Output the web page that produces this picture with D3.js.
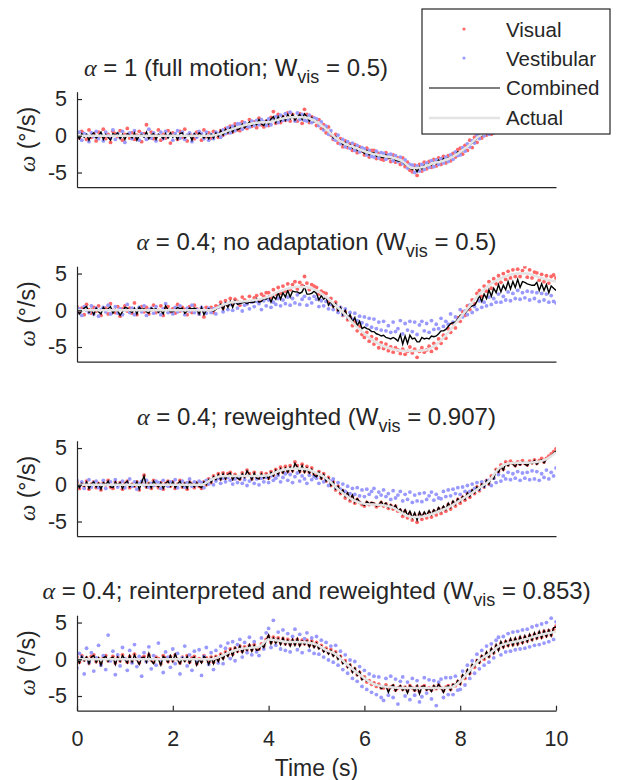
<!DOCTYPE html>
<html>
<head>
<meta charset="utf-8">
<script src="https://cdn.jsdelivr.net/npm/d3@7/dist/d3.min.js"></script>
<style>
  body { margin: 0; background: #fff; }
  svg text { font-family: 'Liberation Sans', Arial, Helvetica, sans-serif; fill: #262626; }
</style>
</head>
<body>
<svg id="chart" width="617" height="780"></svg>
<script>
// sample times: dots and combined every 0.05 s, actual motion every 0.2 s
const sampleTime = d3.range(201).map(i => i * 0.05)
const actualTime = d3.range(51).map(i => i * 0.2)

const xTicks = [0, 2, 4, 6, 8, 10]
const yTicks = [-5, 0, 5]
const legendLabels = ['Visual', 'Vestibular', 'Combined', 'Actual']

const titleHeads = ['= 1 (full motion; W', '= 0.4; no adaptation (W', '= 0.4; reweighted (W', '= 0.4; reinterpreted and reweighted (W']
const titleTails = [' = 0.5)', ' = 0.5)', ' = 0.907)', ' = 0.853)']

const actual1 = [0, 0, 0, 0, 0, 0, 0, 0, 0, 0, 0, 0, 0, 0, 0, 0.3, 0.8, 1.25, 1.6, 1.8, 1.85, 2.2, 2.5, 2.55, 2.45, 1.9, 0.9, -0.3, -1.1, -1.6, -2.1, -2.5, -2.75, -3.0, -3.5, -4.4, -4.3, -3.8, -3.5, -3.0, -2.2, -1.2, 0.0, 0.5, 0.9, 1.4, 1.9, 2.2, 2.4, 2.6, 2.8]
const actual2 = [0, 0, 0, 0, 0, 0, 0, 0, 0, 0, 0, 0, 0, 0, 0, 0.6, 1.05, 1.2, 1.3, 1.5, 1.85, 2.5, 2.95, 3.2, 3.15, 2.7, 1.8, 0.65, -0.6, -2.0, -3.2, -4.2, -4.9, -5.3, -5.5, -5.55, -5.5, -5.1, -4.1, -2.6, -1.0, 0.6, 2.2, 3.4, 4.2, 4.75, 5.0, 5.0, 4.6, 4.2, 3.9]
const actual3 = [0, 0, 0, 0, 0, 0, 0, 0, 0, 0, 0, 0, 0, 0, 0.7, 1.15, 1.2, 1.2, 1.2, 1.2, 1.3, 1.85, 2.15, 2.2, 2.1, 1.6, 0.9, -0.3, -1.4, -2.2, -2.6, -2.7, -2.8, -3.1, -3.9, -4.4, -4.35, -4.0, -3.5, -2.9, -2.1, -1.3, -0.4, 0.5, 2.2, 2.9, 3.0, 3.0, 3.1, 3.5, 4.4]
const actual4 = [0, 0, 0, 0, 0, 0, 0, 0, 0, 0, 0, 0, 0, 0, 0, 0.4, 1.0, 1.4, 1.55, 1.7, 2.7, 2.55, 2.35, 2.35, 2.3, 2.0, 1.25, 0.7, -0.5, -1.6, -2.6, -3.4, -3.7, -3.85, -3.9, -3.9, -3.9, -3.9, -3.9, -3.85, -3.0, -1.5, -0.1, 0.7, 1.75, 2.2, 2.45, 2.8, 3.2, 3.5, 3.75]

const visual1 = [
  0.4, -0.3, 0.6, 0.1, -0.5, 0.8, -0.2, 0.3, -0.7, 0.5, 0.0, 0.9, -0.4, 0.2, -0.9, 0.6, 0.3, -0.1, 0.7, -0.6, 0.2, 1.0, -0.3, 0.4, -0.5, 0.1, 0.6, -0.8, 0.3, 1.5, -0.2, 0.5,
  -0.4, 0.0, 0.8, -0.6, 0.2, -0.3, 0.7, -1.0, 0.4, 0.1, -0.5, 0.6, -0.2, 0.9, -0.7, 0.3, 0.0, -0.4, 0.5, 0.2, -0.6, 0.8, -0.1, 0.4,
  -0.3, 0.6, 0.4, -0.2, 0.7, 0.1, 1.0, 0.4, 1.3, 0.5, 1.6, 0.8, 0.7, 1.9, 1.2, 1.0, 2.2, 1.3, 1.9, 1.1, 2.4, 1.5, 1.2, 2.0, 1.4, 2.5, 3.3, 1.7, 2.9, 1.8, 2.6, 2.1,
  3.1, 2.0, 2.9, 2.4, 2.0, 3.0, 1.7, 3.6, 2.9, 1.8, 2.6, 2.4, 1.4, 2.2, 1.0, 1.5, 0.4, 1.2, 0.1, -0.5, 0.2, -1.0, -0.4, -1.5, -0.7, -1.6, -1.1, -2.0, -1.2, -2.3, -1.5, -2.1,
  -2.6, -1.7, -2.9, -2.0, -2.0, -3.1, -2.4, -3.2, -3.3, -2.3, -3.0, -3.5, -2.6, -3.6, -3.0, -3.9, -3.0, -4.2, -3.6, -4.7, -4.9, -4.0, -5.4, -3.9, -4.8, -3.6, -4.5, -3.5, -4.3, -3.2, -4.1, -3.0,
  -3.9, -2.8, -3.7, -2.7, -3.4, -2.4, -2.9, -1.9, -1.7, -2.5, -1.3, -2.0, -0.6, -1.6, -0.2, -0.9, 0.5, -0.3, 0.7, 0.1, 1.0, 0.2, 1.1, 0.5, 1.4, 0.6, 1.7, 0.9, 1.9, 1.1, 2.1, 1.4,
  2.5, 1.5, 2.4, 1.7, 2.7, 1.8, 2.8, 2.0, 2.9, 2.0, 3.0, 2.2, 3.1, 2.3, 3.2, 2.4, 2.9
]
const vestibular1 = [
  -0.2, 0.5, -0.6, 0.3, 0.1, -0.8, 0.4, -0.1, 0.6, -0.4, 0.2, -0.7, 0.5, 0.0, -0.3, 0.8, -0.5, 0.3, -0.2, 0.6, -0.9, 0.1, 0.4, -0.4, 0.7, -0.1, -0.6, 0.3, 0.0, -0.5, 0.9, -0.3,
  0.4, -0.7, 0.1, 0.5, -0.4, 0.6, -0.1, 0.2, -0.6, 0.3, 0.7, -0.3, 0.5, -0.5, 0.1, 0.4, -0.8, 0.2, -0.2, 0.6, 0.3, -0.4, 0.5, -0.6,
  0.2, -0.4, 0.5, 0.3, -0.2, 0.8, 0.3, 1.1, 0.4, 1.3, 0.7, 1.6, 1.6, 0.9, 1.8, 1.3, 1.2, 2.0, 1.4, 2.1, 1.5, 2.2, 1.9, 1.4, 2.3, 1.5, 2.1, 2.6, 1.8, 2.8, 2.1, 3.0,
  2.2, 3.2, 2.6, 2.0, 3.1, 2.2, 2.9, 2.1, 2.0, 2.8, 1.8, 2.4, 2.3, 1.4, 1.9, 0.8, 1.3, 0.2, 0.7, -0.3, -0.6, 0.1, -1.1, -0.5, -1.5, -0.8, -1.7, -1.0, -2.0, -1.3, -2.2, -1.6,
  -1.8, -2.6, -2.0, -2.8, -2.9, -2.1, -3.0, -2.3, -2.4, -3.2, -2.6, -2.5, -3.4, -2.7, -3.5, -2.9, -3.8, -3.3, -4.4, -3.9, -4.0, -5.0, -4.1, -4.8, -3.9, -4.6, -3.7, -4.3, -3.4, -4.2, -3.3, -3.9,
  -3.1, -3.7, -2.9, -3.5, -2.6, -3.2, -2.2, -2.7, -2.6, -1.6, -2.1, -1.1, -1.5, -0.7, -1.0, 0.1, -0.4, 0.5, 0.0, 0.8, 0.2, 1.0, 0.4, 1.2, 0.6, 1.4, 0.8, 1.7, 1.1, 1.9, 1.3, 2.2,
  1.6, 2.4, 1.8, 2.6, 1.9, 2.7, 2.1, 2.8, 2.1, 2.9, 2.3, 3.0, 2.3, 3.1, 2.5, 3.3, 2.6
]
const combined1 = [
  0.1, -0.4, 0.3, -0.2, 0.2, -0.6, 0.1, 0.4, -0.3, 0.0, 0.5, -0.5, 0.2, -0.2, -0.6, 0.3, 0.1, 0.4, -0.4, 0.2, -0.5, 0.3, 0.1, -0.3, 0.4, -0.6, 0.0, 0.2, -0.2, 0.5, -0.4, 0.1,
  0.3, -0.5, 0.2, 0.0, -0.4, 0.3, -0.3, 0.4, -0.2, 0.1, -0.5, 0.3, 0.4, -0.3, 0.0, 0.2, -0.6, 0.3, -0.1, 0.4, 0.1, -0.3, 0.2, -0.4,
  0.2, -0.3, 0.4, -0.1, 0.7, 0.1, 0.9, 0.4, 1.1, 0.5, 1.3, 0.8, 1.0, 1.6, 1.1, 1.5, 1.9, 1.4, 1.8, 1.5, 2.2, 1.6, 1.4, 2.1, 1.6, 2.3, 2.6, 1.8, 2.6, 2.0, 2.7, 2.1,
  2.9, 2.3, 2.9, 2.1, 2.6, 2.9, 2.2, 3.0, 2.6, 2.0, 2.5, 1.9, 2.0, 1.6, 1.5, 1.0, 1.0, 0.6, 0.4, -0.3, -0.1, -0.6, -0.6, -1.2, -0.9, -1.4, -1.2, -1.7, -1.4, -2.0, -1.7, -2.1,
  -2.4, -2.0, -2.6, -2.3, -2.3, -2.8, -2.6, -2.9, -3.0, -2.6, -3.0, -3.1, -2.9, -3.3, -3.4, -3.5, -3.5, -3.9, -4.1, -4.4, -4.6, -4.3, -4.9, -4.2, -4.5, -4.0, -4.2, -3.8, -4.0, -3.6, -3.8, -3.3,
  -3.6, -3.1, -3.4, -3.0, -3.1, -2.7, -2.7, -2.2, -2.3, -2.0, -1.8, -1.4, -1.2, -1.0, -0.7, -0.3, 0.1, 0.0, 0.4, 0.3, 0.7, 0.5, 0.9, 0.7, 1.1, 0.9, 1.3, 1.2, 1.6, 1.4, 1.8, 1.7,
  2.1, 1.8, 2.2, 2.0, 2.4, 2.1, 2.5, 2.3, 2.6, 2.3, 2.7, 2.5, 2.8, 2.6, 2.9, 2.7, 2.8
]

const visual2 = [
  0.5, -0.2, 0.3, -0.6, 0.8, 0.1, -0.4, 0.4, -0.1, 0.6, -0.7, 0.2, 0.3, -0.5, 0.9, 0.0, -0.3, 0.5, -0.8, 0.2, 0.6, -0.1, 0.3, -0.4, 1.0, -0.6, 0.2, 0.5, -0.2, 0.4, -0.5, 0.1,
  0.7, -0.3, 0.0, 0.6, -0.7, 0.3, 0.5, -0.2, 0.2, -0.4, 0.8, -0.1, 0.4, 0.1, -0.6, 0.5, -0.3, 0.7, 0.2, -0.5, 0.3, -0.9, 0.4, 0.1,
  0.4, -0.3, 0.6, 0.5, 1.1, 0.3, 1.3, 0.7, 1.6, 0.8, 1.5, 1.2, 0.7, 1.8, 1.4, 0.9, 1.9, 1.1, 1.7, 2.0, 1.3, 2.2, 1.9, 2.4, 2.4, 1.7, 2.8, 2.2, 3.1, 2.3, 3.3, 2.6,
  3.6, 2.8, 3.5, 3.9, 2.9, 3.8, 3.4, 4.6, 3.7, 2.8, 3.5, 3.3, 3.1, 2.2, 2.6, 2.4, 2.3, 1.2, 1.6, 0.6, 1.1, 0.0, 0.4, -0.7, -0.2, -1.3, -0.9, -2.1, -1.6, -2.8, -2.2, -3.3,
  -3.7, -3.0, -4.2, -3.6, -4.6, -3.9, -5.1, -4.4, -5.2, -4.6, -5.5, -5.0, -5.7, -5.1, -5.4, -5.9, -5.3, -6.0, -5.6, -5.0, -5.8, -5.3, -6.4, -5.6, -5.1, -5.7, -5.4, -4.9, -5.6, -4.5, -5.2, -3.9,
  -4.5, -3.4, -3.8, -2.5, -3.0, -1.8, -2.4, -1.0, -1.5, -0.2, -0.7, 0.6, 0.1, 1.4, 0.9, 2.3, 2.7, 1.9, 3.3, 2.6, 3.9, 3.0, 4.3, 3.6, 4.7, 3.8, 5.0, 4.2, 5.3, 4.4, 5.5, 4.6,
  5.6, 4.6, 5.4, 5.9, 4.5, 5.5, 4.4, 5.2, 5.1, 4.1, 4.9, 3.9, 4.7, 3.7, 4.6, 4.8, 4.4
]
const vestibular2 = [
  -0.4, 0.2, -0.7, 0.5, 0.0, -0.3, 0.6, -0.5, 0.3, -0.8, 0.1, 0.4, -0.2, 0.7, -0.5, 0.0, 0.5, -0.4, 0.2, -0.6, 0.1, 0.8, -0.3, 0.3, -0.6, 0.0, 0.4, -0.2, 0.6, -0.7, 0.1, 0.3,
  -0.4, 0.5, -0.1, -0.6, 0.2, 0.9, -0.3, 0.0, -0.5, 0.4, -0.2, 0.6, 0.0, -0.6, 0.3, -0.1, 0.7, -0.3, 0.1, -0.5, 0.4, 0.0, -0.4, 0.3,
  -0.3, 0.2, -0.5, 0.4, 0.6, -0.2, 0.9, 0.1, 0.8, 0.0, 1.1, 0.3, 1.0, -0.1, 0.7, 0.9, 0.2, 1.1, 0.5, 1.2, 0.9, 0.1, 1.3, 0.6, 1.4, 0.4, 1.1, 0.8, 1.6, 0.6, 1.4, 0.9,
  1.8, 0.7, 1.6, 1.0, 2.1, 0.8, 1.5, 1.9, 0.7, 1.6, 1.0, 1.9, 1.5, 0.5, 1.3, 0.6, 1.2, 0.2, 0.8, 0.1, 0.7, -0.3, 0.4, -0.6, 0.2, -0.9, -0.3, -1.2, -0.4, -1.4, -0.8, -1.7,
  -0.9, -2.0, -1.1, -2.3, -1.2, -2.5, -1.6, -2.7, -1.5, -2.8, -2.1, -3.0, -1.6, -2.9, -2.5, -1.4, -3.2, -1.8, -2.7, -1.5, -2.9, -1.6, -3.3, -2.0, -1.5, -2.8, -1.8, -3.0, -1.4, -2.6, -1.9, -2.5,
  -1.1, -2.2, -1.5, -1.9, -0.5, -1.6, -0.9, -1.3, 0.1, -0.9, -0.1, -0.6, 0.7, -0.3, 0.5, 0.1, 1.3, 0.4, 1.1, 0.6, 1.8, 0.8, 1.6, 1.1, 2.2, 1.1, 1.9, 1.4, 2.5, 1.3, 2.3, 1.6,
  2.7, 1.5, 2.4, 1.7, 2.6, 1.4, 2.5, 1.6, 2.4, 1.2, 2.3, 1.4, 2.2, 1.1, 2.0, 1.2, 1.0
]
const combined2 = [
  0.2, -0.5, -0.1, 0.3, 0.5, -0.3, 0.1, -0.6, 0.3, -0.2, -0.5, 0.4, 0.0, 0.2, 0.5, -0.4, 0.1, -0.1, -0.7, -0.2, 0.4, 0.3, -0.1, -0.3, 0.3, -0.5, 0.4, 0.1, 0.2, -0.2, -0.4, 0.3,
  0.1, 0.2, -0.3, 0.0, -0.5, 0.6, 0.1, -0.2, -0.2, 0.0, 0.4, 0.2, 0.3, -0.4, -0.1, 0.3, 0.2, 0.3, 0.1, -0.5, 0.4, -0.6, 0.0, 0.2,
  0.0, -0.1, 0.1, 0.4, 0.8, 0.1, 1.0, 0.4, 1.2, 0.4, 1.3, 0.8, 0.9, 1.0, 1.1, 0.9, 1.1, 1.1, 1.1, 1.6, 1.1, 1.2, 1.6, 1.5, 1.9, 1.1, 1.9, 1.5, 2.4, 1.5, 2.4, 1.8,
  2.7, 1.8, 2.6, 2.5, 2.5, 2.3, 2.5, 3.2, 2.2, 2.2, 2.3, 2.6, 2.3, 1.4, 2.0, 1.5, 1.8, 0.7, 1.2, 0.4, 0.9, -0.1, 0.4, -0.6, 0.0, -1.1, -0.6, -1.6, -1.0, -2.1, -1.5, -2.5,
  -2.3, -2.5, -2.6, -2.9, -2.9, -3.2, -3.3, -3.5, -3.4, -3.7, -3.8, -3.9, -3.7, -3.9, -4.2, -3.3, -4.6, -3.5, -4.5, -3.4, -3.9, -3.8, -4.3, -4.3, -3.7, -3.9, -3.8, -3.9, -3.5, -3.6, -3.5, -3.2,
  -2.8, -2.8, -2.6, -2.2, -1.8, -1.7, -1.6, -1.2, -0.7, -0.6, -0.4, 0.0, 0.4, 0.6, 0.7, 1.2, 2.0, 1.2, 2.2, 1.6, 2.8, 1.9, 3.0, 2.4, 3.5, 2.5, 3.4, 2.8, 3.9, 2.9, 3.9, 3.1,
  4.2, 3.1, 3.9, 3.8, 3.6, 3.5, 3.4, 3.4, 3.8, 2.7, 3.6, 2.7, 3.5, 2.4, 3.3, 3.0, 2.7
]

const visual3 = [
  0.3, -0.5, 0.2, -0.2, 0.5, -0.6, 0.1, 0.4, -0.4, 0.2, -0.7, 0.3, 0.0, 0.6, -0.3, -0.5, 0.4, -0.1, 0.3, -0.6, 0.2, 0.5, -0.4, 0.1, -0.2, 0.4, -0.7, 0.3, 1.3, -0.3, 0.2, -0.5,
  0.6, 0.0, -0.4, 0.3, -0.6, 0.2, 0.5, -0.2, 0.4, -0.5, 0.1, 0.6, -0.3, 0.2, -0.6, 0.4, 0.1, -0.4, 0.3, -0.2,
  -0.5, 0.4, 0.0, 0.8, 0.3, 1.2, 0.8, 1.5, 0.8, 1.6, 0.9, 1.5, 1.7, 0.8, 1.4, 1.0, 0.8, 1.6, 1.1, 2.0, 1.5, 0.8, 1.7, 1.0, 0.9, 1.6, 1.0, 1.5, 0.9, 1.8, 1.3, 2.1,
  1.5, 2.4, 1.7, 2.5, 1.8, 2.6, 1.9, 3.1, 2.6, 1.8, 2.8, 1.8, 2.5, 1.7, 2.3, 1.4, 1.2, 1.8, 0.9, 1.5, 0.5, 1.0, -0.1, 0.4, -0.7, -0.2, -1.2, -0.8, -1.8, -1.2, -2.2, -1.6,
  -2.5, -2.0, -2.4, -2.7, -2.9, -2.4, -2.7, -2.5, -2.6, -3.0, -2.8, -2.4, -2.9, -2.6, -3.2, -2.8, -3.3, -2.9, -3.6, -3.5, -4.3, -3.6, -4.5, -3.9, -4.8, -4.1, -5.1, -4.0, -4.7, -4.0, -4.5, -3.8,
  -4.4, -3.6, -4.1, -3.3, -3.9, -3.1, -3.6, -2.7, -3.3, -2.4, -2.9, -2.0, -2.5, -1.7, -2.1, -1.2, -1.7, -0.8, -1.2, -0.3, -0.8, 0.1, -0.3, 0.6, 0.1, 1.2, 0.9, 2.1, 1.8, 2.7, 2.1, 3.1,
  2.7, 3.2, 2.9, 2.6, 3.1, 2.8, 3.3, 2.9, 2.7, 3.2, 3.0, 3.4, 2.9, 3.3, 3.6, 3.1, 3.6, 3.9, 4.2, 4.5, 4.9
]
const vestibular3 = [
  0.6, -0.2, 0.4, -0.5, 0.1, 0.7, -0.3, 0.3, 0.5, -0.4, 0.0, 0.6, -0.5, 0.2, 0.4, -0.1, 0.7, -0.3, 0.1, 0.5, -0.4, 0.3, 0.8, -0.2, 0.4, -0.6, 0.2, 0.5, 0.0, 0.6, -0.3, 0.2,
  -0.1, 0.5, 0.3, -0.5, 0.6, 0.0, -0.2, 0.4, 0.2, 0.7, -0.4, 0.1, 0.5, -0.3, 0.3, 0.8, -0.2, 0.4, 0.0, 0.5,
  0.3, -0.4, 0.6, 0.1, 0.7, 0.0, 0.5, 0.9, 0.2, 0.9, 0.4, 1.0, 0.6, 0.1, 0.8, 0.3, 1.0, 0.2, 0.7, -0.1, 0.5, 1.1, 0.2, 0.8, 0.0, 0.9, 0.4, 1.0, 0.3, 1.2, 0.6, 0.9,
  1.3, 0.4, 1.0, 1.5, 0.6, 1.4, 0.3, 1.1, 1.6, 0.5, 1.2, 0.8, 0.2, 1.3, 0.7, 1.1, 0.9, 0.2, 1.2, 0.4, 0.7, -0.1, 0.5, 0.8, -0.4, 0.3, -0.6, 0.1, -0.9, -0.2, -1.2, -0.5,
  -1.3, -0.4, -1.5, -0.7, -1.6, -0.6, -1.3, -0.9, -0.5, -1.7, -1.0, -1.4, -0.7, -1.6, -1.2, -2.0, -0.8, -1.8, -1.4, -0.9, -2.2, -1.3, -2.0, -1.0, -2.4, -1.4, -2.2, -1.2, -2.3, -1.1, -2.0, -1.5,
  -1.0, -2.1, -1.3, -1.8, -1.9, -0.9, -1.6, -0.7, -1.5, -0.6, -1.2, -0.4, -1.3, -0.3, -0.9, -0.1, -0.9, 0.1, -0.5, 0.3, -0.6, 0.4, -0.2, 0.5, 0.6, -0.1, 0.9, 0.3, 1.4, 0.5, 1.2, 0.8,
  1.7, 0.7, 1.5, 0.9, 1.8, 0.6, 1.6, 0.9, 1.7, 0.7, 1.9, 0.8, 1.8, 0.6, 1.5, 1.0, 2.0, 0.8, 1.7, 1.2, 2.3
]
const combined3 = [
  0.3, -0.4, 0.2, -0.2, 0.4, -0.5, 0.1, 0.4, -0.3, 0.2, -0.6, 0.3, 0.0, 0.5, -0.3, -0.4, 0.4, -0.1, 0.3, -0.5, 0.2, 0.5, -0.3, 0.1, -0.2, 0.4, -0.6, 0.3, 1.2, -0.3, 0.2, -0.4,
  0.5, 0.0, -0.3, 0.3, -0.5, 0.2, 0.5, -0.2, 0.4, -0.4, 0.1, 0.5, -0.3, 0.2, -0.5, 0.4, 0.1, -0.3, 0.3, -0.2,
  -0.4, 0.4, 0.0, 0.7, 0.3, 1.1, 0.7, 1.4, 0.7, 1.5, 0.8, 1.4, 1.6, 0.7, 1.3, 0.9, 0.7, 1.5, 1.0, 1.9, 1.4, 0.7, 1.6, 0.9, 0.8, 1.5, 0.9, 1.4, 0.8, 1.7, 1.2, 2.0,
  1.4, 2.2, 1.6, 2.3, 1.7, 2.4, 1.8, 2.9, 2.4, 1.7, 2.6, 1.7, 2.3, 1.6, 2.1, 1.3, 1.1, 1.7, 0.8, 1.4, 0.5, 0.9, -0.1, 0.4, -0.6, -0.2, -1.1, -0.7, -1.6, -1.1, -2.0, -1.4,
  -2.4, -1.9, -2.3, -2.6, -2.8, -2.3, -2.6, -2.4, -2.5, -2.9, -2.7, -2.3, -2.8, -2.5, -3.1, -2.7, -3.2, -2.8, -3.5, -3.3, -4.0, -3.4, -4.2, -3.6, -4.5, -3.8, -4.8, -3.7, -4.4, -3.7, -4.2, -3.5,
  -4.1, -3.4, -3.8, -3.1, -3.6, -2.9, -3.4, -2.5, -3.1, -2.2, -2.7, -1.9, -2.3, -1.6, -2.0, -1.1, -1.6, -0.7, -1.1, -0.3, -0.7, 0.1, -0.3, 0.6, 0.1, 1.1, 0.8, 2.0, 1.7, 2.5, 2.0, 2.9,
  2.6, 3.0, 2.8, 2.5, 3.0, 2.7, 3.1, 2.8, 2.6, 3.1, 2.9, 3.3, 2.8, 3.2, 3.4, 3.0, 3.5, 3.7, 4.0, 4.3, 4.6
]

const visual4 = [
  0.3, -0.4, 0.5, -0.1, 0.2, -0.5, 0.4, 0.6, -0.3, 0.1, -0.6, 0.3, 0.5, -0.2, 0.0, 0.4, -0.5, 0.3, -0.2, 0.6, 0.1, -0.4, 0.4, -0.3, 0.7, 0.0, -0.5, 0.2, 0.4, -0.3, 0.6, -0.1,
  -0.4, 0.3, 0.1, -0.6, 0.5, 0.2, -0.3, 0.4, -0.2, 0.6, 0.0, -0.5, 0.3, -0.1, 0.5, -0.4, 0.2, 0.4, -0.6, 0.1, -0.3, 0.5, 0.2, -0.4,
  0.3, -0.4, 0.4, -0.1, 0.7, 0.2, 1.0, 0.6, 1.4, 0.7, 1.5, 1.1, 1.8, 1.1, 1.7, 1.3, 1.9, 1.3, 2.0, 1.4, 1.4, 2.1, 1.8, 2.7, 3.1, 2.3, 3.0, 2.4, 2.9, 2.2, 2.8, 2.1,
  2.7, 2.0, 2.6, 2.1, 2.7, 2.0, 2.6, 2.1, 2.6, 1.9, 2.5, 1.8, 2.3, 1.6, 1.9, 1.2, 1.5, 0.9, 1.3, 0.6, 1.0, 0.2, 0.4, -0.4, -0.2, -1.0, -0.8, -1.6, -1.3, -2.1, -1.8, -2.6,
  -2.4, -3.1, -2.9, -3.4, -3.2, -3.7, -3.4, -3.9, -3.9, -3.5, -4.0, -3.8, -3.6, -4.2, -3.9, -3.7, -4.1, -3.8, -4.3, -3.6, -3.9, -4.2, -3.7, -4.4, -3.8, -3.6, -4.1, -3.9, -4.2, -3.7, -4.0, -3.5,
  -3.9, -4.3, -3.8, -3.6, -4.1, -3.5, -3.6, -3.0, -3.3, -2.3, -2.6, -1.6, -1.9, -0.9, -1.1, -0.2, -0.4, 0.4, 0.0, 0.8, 0.4, 1.3, 0.9, 1.8, 1.4, 2.2, 1.7, 2.4, 1.9, 2.6, 2.0, 2.7,
  2.1, 2.9, 2.3, 3.0, 2.5, 3.2, 2.7, 3.4, 2.9, 3.6, 3.0, 3.8, 3.2, 3.9, 3.3, 4.1, 4.5
]
const vestibular4 = [
  -1.2, 0.8, 0.3, -2.0, 1.5, -0.4, 0.9, -1.6, 0.2, 1.9, -0.8, 0.5, -1.4, 3.3, -0.2, 1.1, -2.1, 0.6, -0.9, 1.6, 0.1, -1.5, 1.2, -0.5, 2.0, -1.0, 0.4, -2.3, 0.9, -0.3, 1.7, -1.3,
  0.5, -0.8, 2.2, -0.1, -1.8, 1.0, 0.3, -1.1, 1.4, -0.6, 0.8, -2.0, 0.2, 1.8, -0.9, 0.6, -1.5, 1.1, -0.2, 1.3, -2.2, 0.4, 1.6, -0.7,
  0.9, -1.4, 1.2, -0.5, 1.8, -0.6, 1.5, 2.2, 0.1, 2.4, -0.2, 2.0, 2.7, 0.3, 2.3, 0.9, 3.0, 0.6, 2.4, 1.0, 0.5, 2.9, 1.4, 3.6, 4.2, 1.6, 5.3, 1.9, 3.7, 1.4, 4.0, 1.2,
  3.5, 1.0, 3.1, 4.1, 1.3, 3.4, 0.9, 2.8, 3.6, 1.2, 2.9, 0.8, 3.1, 0.7, 2.6, 0.3, 2.3, -0.1, 1.8, -0.4, 1.9, -0.8, 1.1, -1.4, 0.6, -1.9, -0.1, -2.6, -0.3, -3.0, -1.0, -3.7,
  -1.5, -4.1, -2.0, -4.5, -2.3, -4.8, -2.4, -5.2, -5.6, -2.6, -4.9, -2.3, -5.2, -2.7, -6.1, -3.0, -2.4, -5.0, -3.1, -5.5, -2.6, -4.9, -2.9, -5.8, -5.1, -2.5, -4.6, -2.8, -5.4, -2.9, -6.3, -3.1,
  -2.7, -5.2, -2.5, -4.8, -2.5, -4.8, -2.3, -4.2, -4.1, -1.6, -3.5, -0.8, -2.6, -0.2, -1.9, 0.7, -1.3, 1.2, -0.8, 1.8, -0.4, 2.1, 0.2, 2.6, 3.0, 0.6, 3.1, 1.0, 3.5, 1.1, 3.7, 1.3,
  3.8, 1.4, 4.0, 1.5, 4.1, 1.7, 4.4, 1.9, 4.6, 2.0, 4.8, 2.2, 5.0, 2.4, 5.6, 2.7, 5.1
]
const combined4 = [
  0.2, -0.5, 0.4, -0.2, 0.3, -0.6, 0.3, 0.5, -0.4, 0.2, -0.8, 0.2, 0.4, -0.3, 0.1, 0.3, -0.7, 0.3, -0.3, 0.5, 0.0, -0.5, 0.5, -0.4, 0.6, -0.1, -0.7, 0.2, 0.3, -0.4, 0.8, -0.2,
  -0.6, 0.2, 0.0, -0.8, 0.4, 0.1, -0.4, 0.5, -0.3, 0.7, -0.1, -0.6, 0.2, -0.3, 0.4, -0.5, 0.1, 0.3, -0.8, 0.0, -0.5, 0.4, 0.1, -0.7,
  0.2, -0.6, 0.3, -0.3, 0.6, 0.0, 0.9, 0.4, 1.3, 0.5, 1.6, 1.0, 1.8, 0.9, 1.6, 1.2, 2.0, 1.1, 1.9, 1.2, 1.3, 2.0, 1.6, 2.6, 3.3, 2.1, 2.9, 2.2, 2.8, 2.0, 2.9, 2.0,
  2.6, 1.8, 2.7, 1.9, 2.8, 1.8, 2.5, 2.0, 2.5, 1.7, 2.4, 1.6, 2.2, 1.4, 1.8, 1.0, 1.4, 0.7, 1.2, 0.4, 0.9, 0.0, 0.4, -0.6, -0.3, -1.1, -0.7, -1.8, -1.2, -2.2, -1.7, -2.8,
  -2.5, -3.0, -3.0, -3.3, -3.3, -3.6, -3.5, -4.0, -3.8, -3.6, -4.5, -3.8, -3.5, -4.3, -3.9, -3.6, -4.2, -3.8, -4.6, -3.6, -3.9, -4.3, -3.6, -4.7, -3.7, -3.6, -4.2, -3.9, -4.4, -3.6, -4.0, -3.4,
  -3.9, -4.5, -3.8, -3.6, -4.2, -3.4, -3.5, -2.9, -3.4, -2.1, -2.5, -1.4, -2.0, -0.7, -1.0, -0.1, -0.5, 0.5, 0.1, 1.0, 0.3, 1.5, 0.8, 2.0, 1.2, 2.4, 1.6, 2.5, 1.8, 2.8, 1.9, 2.9,
  2.0, 3.1, 2.2, 3.2, 2.4, 3.4, 2.6, 3.6, 2.8, 3.8, 2.9, 3.9, 3.1, 4.0, 3.2, 4.3, 4.4
]

const panels = [
  { visual: visual1, vestibular: vestibular1, combined: combined1, actual: actual1 },
  { visual: visual2, vestibular: vestibular2, combined: combined2, actual: actual2 },
  { visual: visual3, vestibular: vestibular3, combined: combined3, actual: actual3 },
  { visual: visual4, vestibular: vestibular4, combined: combined4, actual: actual4 }
]

// layout
const plotLeft = 77
const plotRight = 556
const plotHeight = 95.5
const panelTops = [91.7, 266.2, 440.7, 615.2]
const titleCenters = [236, 316.5, 316.5, 316.5]
const visualColor = '#ff6666'
const vestibularColor = '#9999ff'
const actualColor = '#e4e4e4'
const axisColor = '#262626'

const svg = d3.select('#chart')
const x = d3.scaleLinear().domain([0, 10]).range([plotLeft, plotRight])

panels.forEach((p, i) => {
  const top = panelTops[i]
  const y = d3.scaleLinear().domain([-7, 6]).range([top + plotHeight, top])
  const g = svg.append('g').attr('class', 'panel')

  g.append('clipPath')
    .attr('id', 'clip' + i)
    .append('rect')
    .attr('x', plotLeft)
    .attr('y', top)
    .attr('width', plotRight - plotLeft)
    .attr('height', plotHeight)

  const plot = g.append('g').attr('clip-path', 'url(#clip' + i + ')')

  plot.selectAll('.visual')
    .data(p.visual)
    .join('circle')
    .attr('class', 'visual')
    .attr('cx', (d, j) => x(sampleTime[j]))
    .attr('cy', d => y(d))
    .attr('r', 1.9)
    .style('fill', visualColor)

  plot.selectAll('.vestibular')
    .data(p.vestibular)
    .join('circle')
    .attr('class', 'vestibular')
    .attr('cx', (d, j) => x(sampleTime[j]))
    .attr('cy', d => y(d))
    .attr('r', 1.9)
    .style('fill', vestibularColor)

  plot.append('path')
    .datum(p.combined)
    .attr('d', d3.line().x((d, j) => x(sampleTime[j])).y(d => y(d)))
    .style('fill', 'none')
    .style('stroke', '#000')
    .style('stroke-width', 1.4)

  plot.append('path')
    .datum(p.actual)
    .attr('d', d3.line().x((d, j) => x(actualTime[j])).y(d => y(d)).curve(d3.curveMonotoneX))
    .style('fill', 'none')
    .style('stroke', actualColor)
    .style('stroke-width', 2.5)

  const yAxis = g.append('g')
    .attr('transform', 'translate(' + plotLeft + ',0)')
    .call(d3.axisLeft(y).tickValues(yTicks).tickSize(-5).tickSizeOuter(0).tickPadding(10).tickFormat(d => String(d)))

  const xAxis = g.append('g')
    .attr('transform', 'translate(0,' + (top + plotHeight) + ')')
    .call(d3.axisBottom(x).tickValues(i === 3 ? xTicks : []).tickSize(-5).tickSizeOuter(0).tickPadding(20).tickFormat(d => String(d)))

  ;[yAxis, xAxis].forEach(ax => {
    ax.select('.domain').style('stroke', axisColor).style('stroke-width', 1.2)
    ax.selectAll('.tick line').style('stroke', axisColor).style('stroke-width', 1.2)
    ax.selectAll('.tick text')
      .style('font-size', '21.5px')
      .style('fill', axisColor)
      .attr('font-family', null)
  })

  // y label
  const yl = g.append('text')
    .attr('transform', 'translate(35,' + (top + plotHeight / 2) + ') rotate(-90)')
    .attr('text-anchor', 'middle')
    .style('font-size', '23px')
  yl.append('tspan').style('font-style', 'italic').style('font-family', "'Liberation Serif', serif").text('ω')
  yl.append('tspan').text(' (°/s)')

  // title
  const t = g.append('text')
    .attr('x', titleCenters[i])
    .attr('y', top - 16)
    .attr('text-anchor', 'middle')
    .style('font-size', '24px')
  t.append('tspan').style('font-style', 'italic').style('font-family', "'Liberation Serif', serif").text('α')
  t.append('tspan').text(' ' + titleHeads[i])
  t.append('tspan').attr('dy', 7).style('font-size', '18px').text('vis')
  t.append('tspan').attr('dy', -7).text(titleTails[i])
})

svg.append('text')
  .attr('x', (plotLeft + plotRight) / 2)
  .attr('y', 776)
  .attr('text-anchor', 'middle')
  .style('font-size', '23px')
  .text('Time (s)')

// legend
const legend = svg.append('g').attr('transform', 'translate(422,9)')
legend.append('rect')
  .attr('width', 188)
  .attr('height', 125)
  .style('fill', '#fff')
  .style('stroke', axisColor)
  .style('stroke-width', 1.2)

const rowY = [21, 50, 79, 109]
legendLabels.forEach((label, k) => {
  if (k < 2) {
    legend.append('circle')
      .attr('cx', 42)
      .attr('cy', rowY[k] - 1)
      .attr('r', 1.6)
      .style('fill', k === 0 ? visualColor : vestibularColor)
  } else {
    legend.append('line')
      .attr('x1', 7)
      .attr('x2', 78)
      .attr('y1', rowY[k])
      .attr('y2', rowY[k])
      .style('stroke', k === 2 ? '#000' : actualColor)
      .style('stroke-width', k === 2 ? 1.2 : 2.5)
  }
  legend.append('text')
    .attr('x', 84)
    .attr('y', rowY[k])
    .attr('dy', '0.36em')
    .style('font-size', '20.5px')
    .text(label)
})
</script>
</body>
</html>
